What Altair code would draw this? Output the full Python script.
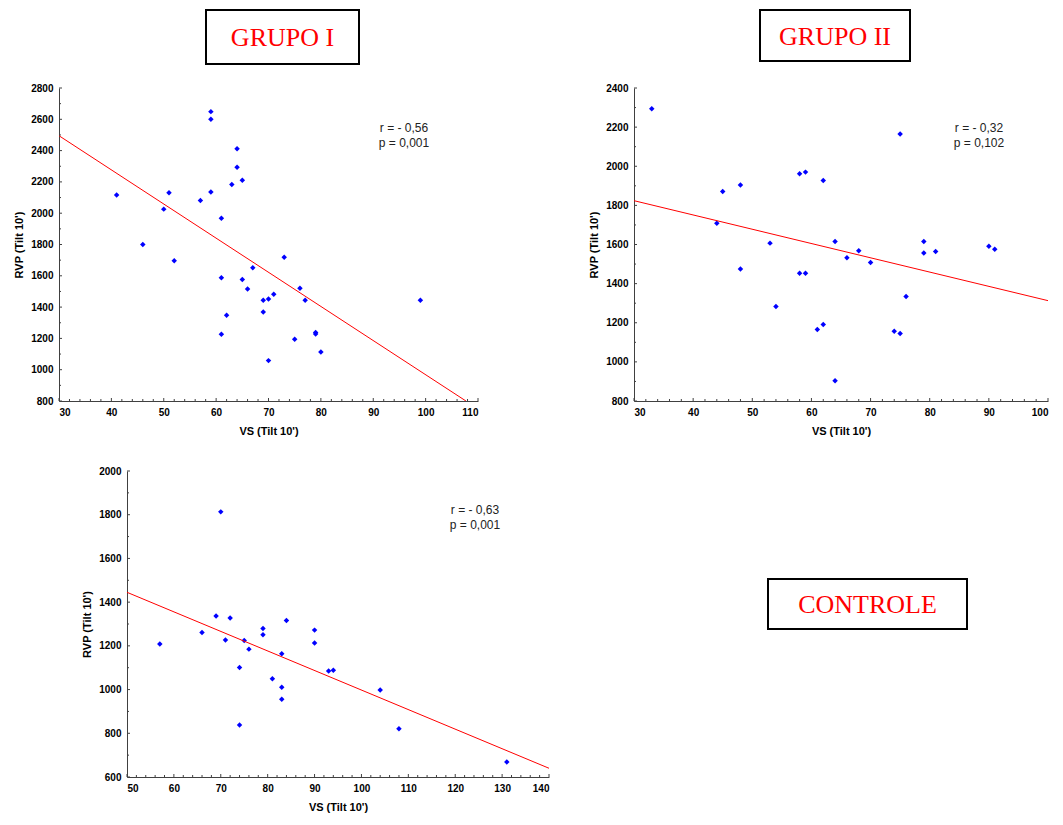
import altair as alt
import pandas as pd

# ---------------- data ----------------
g1_vs = [41, 46, 50, 51, 52, 57, 59, 59, 59, 61, 61, 61, 62, 63, 64, 64, 65, 65, 66, 67,
         69, 69, 70, 70, 71, 73, 75, 76, 77, 79, 79, 80, 99]
g1_rvp = [2116, 1800, 2026, 2130, 1696, 2081, 2649, 2600, 2135, 1968, 1587, 1226, 1348, 2184,
          2412, 2293, 2211, 1576, 1516, 1651, 1444, 1369, 1452, 1058, 1482, 1719, 1194, 1521,
          1444, 1228, 1238, 1113, 1444]
g1_line_vs = [30, 107.7]
g1_line_rvp = [2495, 800]
g1_xticks = [30, 40, 50, 60, 70, 80, 90, 100, 110]
g1_yticks = [800, 1000, 1200, 1400, 1600, 1800, 2000, 2200, 2400, 2600, 2800]
g1_stats = ["r = - 0,56", "p = 0,001"]

g2_vs = [33, 44, 45, 48, 48, 53, 54, 58, 58, 59, 59, 61, 62, 62, 64, 64, 66, 68, 70, 74,
         75, 75, 76, 79, 79, 81, 90, 91]
g2_rvp = [2294, 1709, 1871, 1904, 1475, 1607, 1283, 1962, 1453, 1970, 1453, 1165, 1191, 1927,
          1615, 904, 1532, 1568, 1508, 1156, 2165, 1145, 1334, 1615, 1556, 1564, 1591, 1576]
g2_line_vs = [30, 100]
g2_line_rvp = [1824, 1313]
g2_xticks = [30, 40, 50, 60, 70, 80, 90, 100]
g2_yticks = [800, 1000, 1200, 1400, 1600, 1800, 2000, 2200, 2400]
g2_stats = ["r = - 0,32", "p = 0,102"]

g3_vs = [57, 66, 69, 70, 71, 72, 74, 74, 75, 76, 79, 79, 81, 83, 83, 83, 84, 90, 90, 93,
         94, 104, 108, 131]
g3_rvp = [1209, 1261, 1337, 1813, 1227, 1327, 1101, 838, 1224, 1185, 1279, 1251, 1050, 1164,
          1011, 956, 1316, 1272, 1213, 1085, 1088, 998, 821, 669]
g3_line_vs = [50, 140]
g3_line_rvp = [1445, 640]
g3_xticks = [50, 60, 70, 80, 90, 100, 110, 120, 130, 140]
g3_yticks = [600, 800, 1000, 1200, 1400, 1600, 1800, 2000]
g3_stats = ["r = - 0,63", "p = 0,001"]

X_TITLE = "VS (Tilt 10')"
Y_TITLE = "RVP (Tilt 10')"

AXIS_COLOR = "#404040"


def minor(ticks, n):
    out = []
    for a, b in zip(ticks[:-1], ticks[1:]):
        step = (b - a) / n
        for k in range(1, n):
            out.append(a + k * step)
    return out


def panel(vs, rvp, lvs, lrvp, xticks, yticks, W, H, stats, stat_xy, box, bounds):
    xs = alt.Scale(domain=[xticks[0], xticks[-1]], nice=False, zero=False)
    ys = alt.Scale(domain=[yticks[0], yticks[-1]], nice=False, zero=False)
    xa = alt.Axis(values=xticks, title=X_TITLE, format="d", labelPadding=6, titlePadding=8)
    ya = alt.Axis(values=yticks, title=Y_TITLE, format="d", labelPadding=6, titlePadding=6)

    def X():
        return alt.X("vs:Q", scale=xs, axis=xa)

    def Y():
        return alt.Y("rvp:Q", scale=ys, axis=ya)

    pts = alt.Chart(pd.DataFrame({"vs": vs, "rvp": rvp})).mark_point(
        shape="diamond", filled=True, color="#0000FF", size=30, opacity=1
    ).encode(x=X(), y=Y())

    line = alt.Chart(pd.DataFrame({"vs": lvs, "rvp": lrvp})).mark_line(
        color="#FF0000", strokeWidth=1, clip=True
    ).encode(x=X(), y=Y())

    # inward tick marks (major + minor)
    xmaj = alt.Chart(pd.DataFrame({"vs": xticks})).mark_rule(color=AXIS_COLOR).encode(
        x=X(), y=alt.value(H), y2=alt.value(H - 3))
    xmin = alt.Chart(pd.DataFrame({"vs": minor(xticks, 5)})).mark_rule(color=AXIS_COLOR).encode(
        x=X(), y=alt.value(H), y2=alt.value(H - 2))
    ymaj = alt.Chart(pd.DataFrame({"rvp": yticks})).mark_rule(color=AXIS_COLOR).encode(
        y=Y(), x=alt.value(0), x2=alt.value(3))
    ymin = alt.Chart(pd.DataFrame({"rvp": minor(yticks, 2)})).mark_rule(color=AXIS_COLOR).encode(
        y=Y(), x=alt.value(0), x2=alt.value(2))

    layers = [pts, line, xmin, xmaj, ymin, ymaj]

    sx, sy = stat_xy
    for i, s in enumerate(stats):
        layers.append(
            alt.Chart(pd.DataFrame({"t": [s]})).mark_text(
                font="Liberation Sans", fontSize=12, color="#222222",
                align="center", baseline="middle"
            ).encode(text="t:N", x=alt.value(sx), y=alt.value(sy + 15 * i))
        )

    if box is not None:
        name, bx1, bx2, by1, by2 = box
        layers.append(
            alt.Chart(pd.DataFrame({"t": [name]})).mark_rect(
                fill="white", stroke="black", strokeWidth=2
            ).encode(x=alt.value(bx1), x2=alt.value(bx2), y=alt.value(by1), y2=alt.value(by2))
        )
        layers.append(
            alt.Chart(pd.DataFrame({"t": [name]})).mark_text(
                font="Liberation Serif", fontSize=26, color="#FF0000",
                align="center", baseline="middle"
            ).encode(text="t:N", x=alt.value((bx1 + bx2) / 2), y=alt.value((by1 + by2) / 2 + 1))
        )

    L, T, R, B = bounds
    layers.append(
        alt.Chart(pd.DataFrame({"a": [0]})).mark_rule(opacity=0).encode(
            x=alt.value(L), y=alt.value(T), x2=alt.value(R), y2=alt.value(B))
    )

    return alt.layer(*layers).properties(width=W, height=H)


p1 = panel(g1_vs, g1_rvp, g1_line_vs, g1_line_rvp, g1_xticks, g1_yticks, 419, 313,
           g1_stats, (345, 40), ("GRUPO I", 147, 300, -78, -24), (-50, -79, 434, 350))
p2 = panel(g2_vs, g2_rvp, g2_line_vs, g2_line_rvp, g2_xticks, g2_yticks, 414, 313,
           g2_stats, (345, 40), ("GRUPO II", 126, 276, -78, -27), (-50, -79, 420, 350))
p3 = panel(g3_vs, g3_rvp, g3_line_vs, g3_line_rvp, g3_xticks, g3_yticks, 422, 306,
           g3_stats, (348, 39), ("CONTROLE", 641, 840, 108, 158), (-60, -12, 0, 0))

# narrow invisible spacer that shifts the bottom panel to the right
spacer = alt.Chart(pd.DataFrame({"a": [0]})).mark_rule(opacity=0).encode(
    x=alt.value(0), x2=alt.value(0), y=alt.value(0), y2=alt.value(0)
).properties(width=1, height=1)

chart = alt.vconcat(
    alt.hconcat(p1, p2, spacing=89),
    alt.hconcat(spacer, p3, spacing=5),
    spacing=19,
).properties(
    padding=0, background="white"
).configure_view(
    stroke="transparent"
).configure_axis(
    grid=False, ticks=False, domainColor=AXIS_COLOR, domainWidth=1,
    labelFont="Liberation Sans", labelFontWeight="bold", labelFontSize=10, labelColor="black",
    titleFont="Liberation Sans", titleFontWeight="bold", titleFontSize=11, titleColor="black",
)

chart.save("out.html", embed_options={"renderer": "svg", "actions": False})
